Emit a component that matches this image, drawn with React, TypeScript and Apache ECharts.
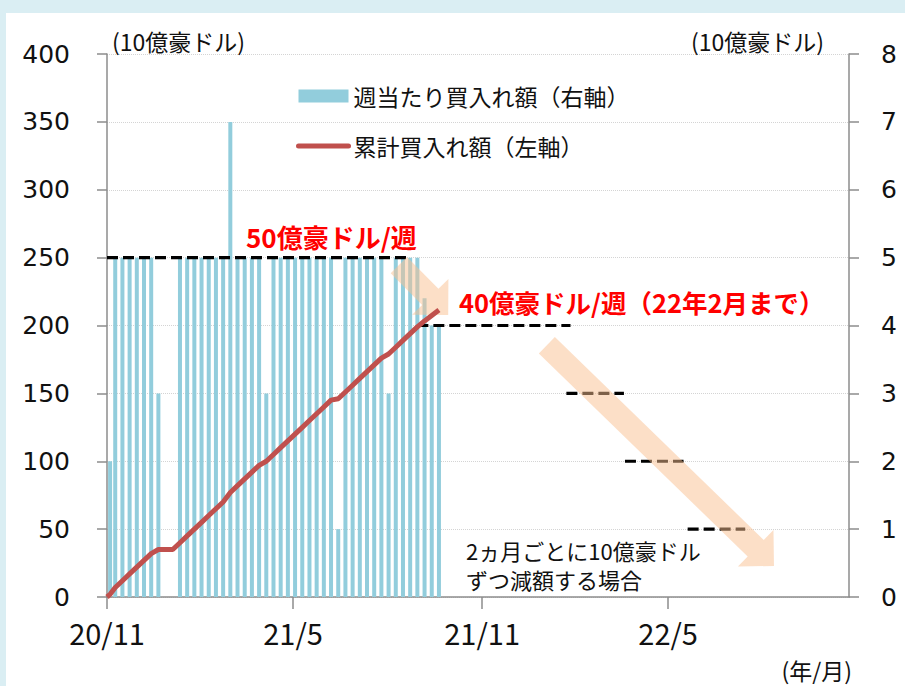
import React, { useEffect, useRef } from 'react';
import * as echarts from 'echarts';

// ---- axis / time frame ----
const ORIGIN_DATE = '2020-11-01';
const AXIS_END_DAY = 722; // ~2022-10-24
const tickDates = ['2020-11-01', '2021-05-01', '2021-11-01', '2022-05-01'];
const tickLabels = ['20/11', '21/5', '21/11', '22/5'];

// ---- weekly purchases (10億豪ドル, right axis) ----
const firstBarDate = '2020-11-04';
const firstBarValue = 2;
const weeklyStartDate = '2020-11-09';
const weeklyValues: (number | null)[] = [
  5, 5, 5, 5, 5, 5, 3, null, null,
  5, 5, 5, 5, 5, 5, 5, 7, 5, 5, 5, 5, 3,
  5, 5, 5, 5, 5, 5, 5, 5, 5, 1,
  5, 5, 5, 5, 5, 5, 3,
  5, 5, 5, 5, 4.4, 4, 4,
];

// ---- cumulative purchases (10億豪ドル, left axis) ----
// points: origin, first partial week, then each weekly date
const cumulativeValues = [
  0, 2,
  7, 12, 17, 22, 27, 32, 35, 35, 35,
  40, 45, 50, 55, 60, 65, 70, 77, 82, 87, 92, 97, 100,
  105, 110, 115, 120, 125, 130, 135, 140, 145, 146,
  151, 156, 161, 166, 171, 176, 179,
  184, 189, 194, 199, 203.4, 207.4, 211.4,
];

// ---- pace guide lines (right axis) ----
const paceLevels = [5, 4, 3, 2, 1];
const paceStarts = ['2020-11-01', '2021-08-30', '2022-01-22', '2022-03-20', '2022-05-20'];
const paceEnds = ['2021-08-20', '2022-01-26', '2022-03-19', '2022-05-16', '2022-07-15'];

// ---- arrows (date, right-axis value) ----
const arrowTails: [string, number][] = [['2021-08-12', 4.89], ['2022-01-03', 3.71]];
const arrowTips: [string, number][] = [['2021-09-29', 4.155], ['2022-08-12', 0.457]];

const BAR_NAME = '週当たり買入れ額（右軸）';
const LINE_NAME = '累計買入れ額（左軸）';
const NOTE_LINES = ['2ヵ月ごとに10億豪ドル', 'ずつ減額する場合'];

const JP = '"Noto Sans CJK JP", "Noto Sans", sans-serif';
const NUM = '"DejaVu Sans", Verdana, sans-serif';

const dayOf = (d: string) =>
  (Date.parse(d + 'T00:00:00Z') - Date.parse(ORIGIN_DATE + 'T00:00:00Z')) / 86400000;

export default function App() {
  const ref = useRef<HTMLDivElement>(null);

  useEffect(() => {
    if (!ref.current) return;
    const chart = echarts.init(ref.current, null, { renderer: 'svg' });

    const tickDays = tickDates.map(dayOf);
    const w0 = dayOf(weeklyStartDate);
    const weekDays = weeklyValues.map((_, k) => w0 + 7 * k);

    const barData: [number, number][] = [[dayOf(firstBarDate), firstBarValue]];
    weeklyValues.forEach((v, k) => {
      if (v !== null) barData.push([weekDays[k], v]);
    });

    const lineDays = [0, dayOf(firstBarDate), ...weekDays];
    const lineData = cumulativeValues.map((v, i) => [lineDays[i], v]);

    const axisColor = '#8c8c8c';

    const paceSeries = paceLevels.map((lv, i) => ({
      name: 'pace' + lv,
      type: 'line',
      yAxisIndex: 1,
      symbol: 'none',
      silent: true,
      z: 2,
      lineStyle: { color: '#000', width: 3.2, type: [11, 5] },
      data: [
        [dayOf(paceStarts[i]), lv],
        [dayOf(paceEnds[i]), lv],
      ],
    }));

    chart.setOption({
      animation: false,
      textStyle: { fontFamily: JP },
      grid: { left: 107, right: 56, top: 54, bottom: 89, outerBoundsMode: 'none' },
      legend: {
        orient: 'vertical',
        left: 291,
        top: 79,
        itemGap: 26,
        itemWidth: 50,
        itemHeight: 13,
        textStyle: { fontSize: 23, fontFamily: JP, color: '#111', lineHeight: 24 },
        data: [
          { name: BAR_NAME, icon: 'rect' },
          {
            name: LINE_NAME,
            itemStyle: { opacity: 0 },
            lineStyle: { width: 5, cap: 'round', color: '#C0504D', opacity: 1 },
          },
        ],
      },
      xAxis: {
        type: 'value',
        min: 0,
        max: AXIS_END_DAY,
        axisLine: { show: true, onZero: false, lineStyle: { color: axisColor, width: 1.5 } },
        axisTick: { show: true, customValues: tickDays, length: 12, lineStyle: { color: axisColor, width: 1.5 } },
        axisLabel: {
          customValues: tickDays,
          formatter: (v: number) => {
            const i = tickDays.findIndex((t) => Math.abs(t - v) < 0.5);
            return i >= 0 ? tickLabels[i] : '';
          },
          fontSize: 29,
          fontFamily: JP,
          color: '#111',
          margin: 20,
        },
        splitLine: { show: false },
      },
      yAxis: [
        {
          type: 'value',
          min: 0,
          max: 400,
          interval: 50,
          position: 'left',
          name: '(10億豪ドル)',
          nameLocation: 'end',
          nameGap: 13,
          nameTextStyle: { fontSize: 23, fontFamily: JP, color: '#111', align: 'left', verticalAlign: 'middle', padding: [0, 0, 0, 5] },
          axisLine: { show: true, lineStyle: { color: axisColor, width: 1.5 } },
          axisTick: { show: true, length: 10, lineStyle: { color: axisColor, width: 1.5 } },
          axisLabel: { fontSize: 25, fontFamily: NUM, color: '#111', margin: 37 },
          splitLine: { show: true, lineStyle: { color: '#d4d4d4', type: 'dotted', width: 1 } },
        },
        {
          type: 'value',
          min: 0,
          max: 8,
          interval: 1,
          position: 'right',
          name: '(10億豪ドル)',
          nameLocation: 'end',
          nameGap: 13,
          nameTextStyle: { fontSize: 23, fontFamily: JP, color: '#111', align: 'right', verticalAlign: 'middle', padding: [0, 25, 0, 0] },
          axisLine: { show: true, lineStyle: { color: axisColor, width: 1.5 } },
          axisTick: { show: true, length: 10, lineStyle: { color: axisColor, width: 1.5 } },
          axisLabel: { fontSize: 25, fontFamily: NUM, color: '#111', margin: 32 },
          splitLine: { show: false },
        },
      ],
      series: [
        {
          name: BAR_NAME,
          type: 'bar',
          yAxisIndex: 1,
          barWidth: 4,
          itemStyle: { color: '#92CDDC' },
          z: 2,
          data: barData,
        },
        ...paceSeries,
        {
          name: LINE_NAME,
          type: 'line',
          yAxisIndex: 0,
          symbol: 'none',
          showSymbol: false,
          z: 5,
          lineStyle: { color: '#C0504D', width: 5 },
          itemStyle: { color: '#C0504D' },
          data: lineData,
        },
      ],
    });

    // arrows anchored to data coordinates
    const toPx = (d: string, v: number) =>
      chart.convertToPixel({ xAxisIndex: 0, yAxisIndex: 1 } as any, [dayOf(d), v]) as number[];
    const arrowShapes = arrowTails.map((tail, i) => {
      const T = toPx(tail[0], tail[1]);
      const P = toPx(arrowTips[i][0], arrowTips[i][1]);
      const dx = P[0] - T[0];
      const dy = P[1] - T[1];
      const len = Math.hypot(dx, dy);
      const ux = dx / len;
      const uy = dy / len;
      const nx = -uy;
      const ny = ux;
      const s = 11.5;
      const h = 25.5;
      const L = 25.5;
      const B = [P[0] - ux * L, P[1] - uy * L];
      const pts = [
        [T[0] + nx * s, T[1] + ny * s],
        [B[0] + nx * s, B[1] + ny * s],
        [B[0] + nx * h, B[1] + ny * h],
        [P[0], P[1]],
        [B[0] - nx * h, B[1] - ny * h],
        [B[0] - nx * s, B[1] - ny * s],
        [T[0] - nx * s, T[1] - ny * s],
      ];
      return {
        type: 'polygon',
        z: 3,
        silent: true,
        shape: { points: pts },
        style: { fill: 'rgba(250,192,144,0.5)' },
      };
    });

    chart.setOption({
      graphic: [
        ...arrowShapes,
        {
          type: 'text',
          z: 6,
          x: 246,
          y: 236,
          style: { text: '50億豪ドル/週', fill: '#FF0000', fontSize: 26, fontWeight: 'bold', fontFamily: JP, verticalAlign: 'middle', align: 'left' },
        },
        {
          type: 'text',
          z: 6,
          x: 459,
          y: 301,
          style: { text: '40億豪ドル/週（22年2月まで）', fill: '#FF0000', fontSize: 25.5, fontWeight: 'bold', fontFamily: JP, verticalAlign: 'middle', align: 'left' },
        },
        ...NOTE_LINES.map((t, i) => ({
          type: 'text',
          z: 6,
          x: 466,
          y: 550 + i * 29,
          style: { text: t, fill: '#111', fontSize: 22, fontFamily: JP, verticalAlign: 'middle', align: 'left' },
        })),
        {
          type: 'text',
          z: 6,
          x: 852,
          y: 670,
          style: { text: '(年/月)', fill: '#111', fontSize: 23, fontFamily: JP, verticalAlign: 'middle', align: 'right' },
        },
      ],
    });

    return () => chart.dispose();
  }, []);

  return (
    <div style={{ position: 'fixed', left: 0, top: 0, width: 905, height: 686, background: '#DAEEF3' }}>
      <div style={{ position: 'absolute', left: 6, top: 13, right: 0, bottom: 0, background: '#ffffff' }} />
      <div ref={ref} style={{ position: 'absolute', left: 0, top: 0, width: 905, height: 686 }} />
    </div>
  );
}
